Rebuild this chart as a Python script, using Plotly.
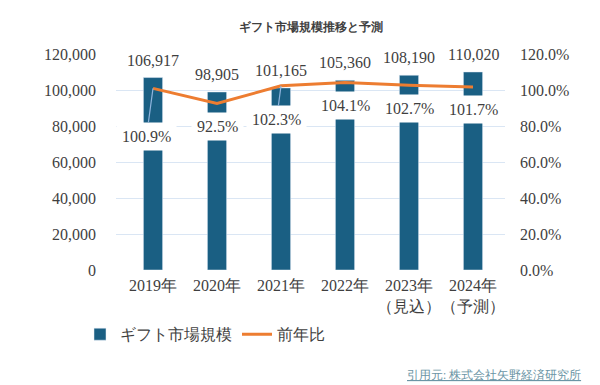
import plotly.graph_objects as go

categories = ["2019年", "2020年", "2021年", "2022年", "2023年<br>（見込）", "2024年<br>（予測）"]
market_size = [106917, 98905, 101165, 105360, 108190, 110020]
yoy_ratio = [1.009, 0.925, 1.023, 1.041, 1.027, 1.017]
market_labels = ["106,917", "98,905", "101,165", "105,360", "108,190", "110,020"]
ratio_labels = ["100.9%", "92.5%", "102.3%", "104.1%", "102.7%", "101.7%"]
ratio_offsets = [(-6.5, 48, True), (0, 22.5, False), (-4.5, 34, True), (0, 23, False), (0, 23, False), (0, 23, False)]

FONT = "Liberation Serif, DejaVu Serif, serif"
TXT = "#3f3f3f"
GRID = "#dae6f4"
FS = 16

L, R, T, B = 108, 103, 45.5, 122.5
pw, ph = 600 - L - R, 385 - T - B

fig = go.Figure()
fig.add_trace(go.Bar(
    x=categories, y=market_size, name="ギフト市場規模",
    marker=dict(color="#1a5f83"), width=0.3, yaxis="y",
))
fig.add_trace(go.Scatter(
    x=categories, y=yoy_ratio, name="前年比", mode="lines",
    line=dict(color="#ed7d31", width=3), yaxis="y2",
))

annotations = []
for c, v, t in zip(categories, market_size, market_labels):
    annotations.append(dict(x=c, y=v, xref="x", yref="y", text=t, showarrow=False,
                            yanchor="middle", yshift=17.5,
                            font=dict(family=FONT, size=FS, color=TXT)))
for c, v, t, (ox, oy, leader) in zip(categories, yoy_ratio, ratio_labels, ratio_offsets):
    if leader:
        annotations.append(dict(x=c, y=v, xref="x", yref="y2", text=t, showarrow=True,
                                ax=ox, ay=oy, arrowhead=0, arrowwidth=1.2, arrowcolor="#8fb4dd",
                                standoff=0, bgcolor="white", borderpad=5,
                                font=dict(family=FONT, size=FS, color=TXT)))
    else:
        annotations.append(dict(x=c, y=v, xref="x", yref="y2", text=t, showarrow=False,
                                yanchor="middle", xshift=ox, yshift=-oy,
                                bgcolor="white", borderpad=5,
                                font=dict(family=FONT, size=FS, color=TXT)))
annotations.append(dict(x=(575 - L) / pw, y=(385 - B - 367) / ph, xref="paper", yref="paper",
                        text="<u>引用元: 株式会社矢野経済研究所</u>",
                        showarrow=False, xanchor="right", yanchor="middle",
                        font=dict(family=FONT, size=11.5, color="#6b95a5")))

fig.update_layout(
    width=600, height=385,
    margin=dict(l=L, r=R, t=T, b=B, pad=0, autoexpand=False),
    paper_bgcolor="white", plot_bgcolor="white",
    title=dict(text="<b>ギフト市場規模推移と予測</b>", x=0.5, xref="paper", y=1 - 19 / 385, yanchor="middle",
               font=dict(family=FONT, size=12, color=TXT)),
    font=dict(family=FONT, size=FS, color=TXT),
    xaxis=dict(type="category", showgrid=False, showline=False, ticks="", tickangle=0, automargin=False,
               ticklabelstandoff=4, tickfont=dict(family=FONT, size=FS, color=TXT)),
    yaxis=dict(range=[0, 120000], dtick=20000, tickformat=",d", showgrid=True, gridcolor=GRID,
               gridwidth=1.3, zeroline=False, showline=False, ticks="", ticklabelstandoff=19,
               automargin=False, tickfont=dict(family=FONT, size=FS, color=TXT)),
    yaxis2=dict(range=[0, 1.2], dtick=0.2, tickformat=".1%", overlaying="y", side="right",
                showgrid=False, zeroline=False, showline=False, ticks="", ticklabelstandoff=14,
                automargin=False, tickfont=dict(family=FONT, size=FS, color=TXT)),
    legend=dict(orientation="h", x=(72 - L) / pw, xanchor="left", y=(385 - B - 310) / ph, yanchor="top",
                font=dict(family=FONT, size=16, color=TXT), bgcolor="rgba(0,0,0,0)",
                itemwidth=30, tracegroupgap=0),
    showlegend=True,
    annotations=annotations,
)

fig.write_html("out.html")
